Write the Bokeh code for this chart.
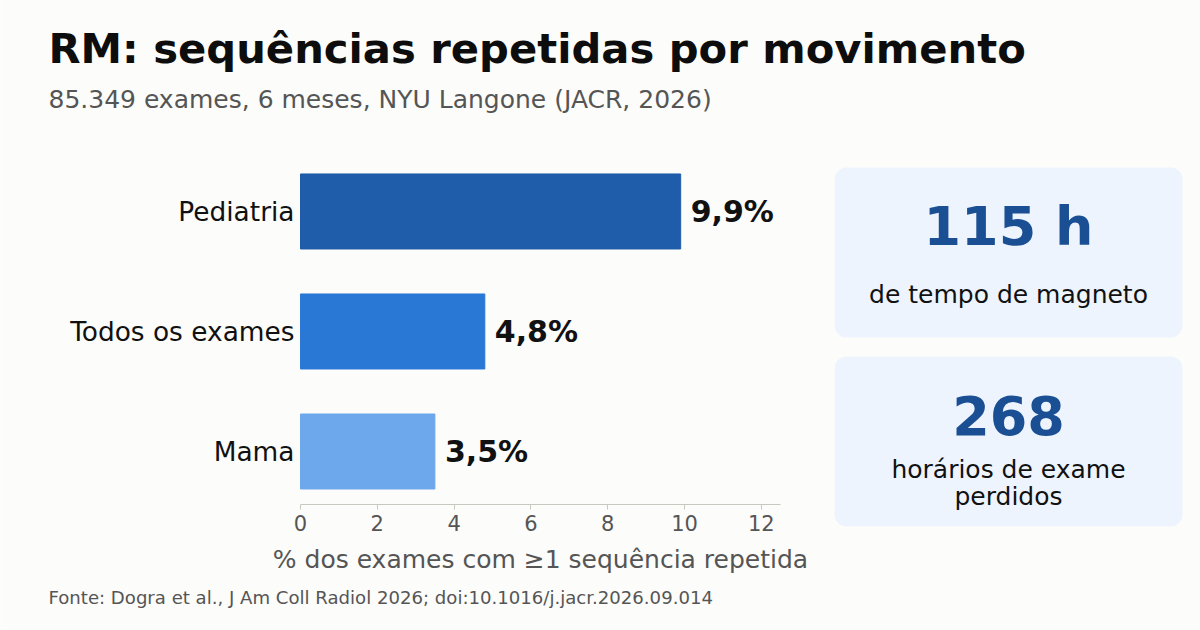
from bokeh.core.properties import value
from bokeh.embed import file_html
from bokeh.layouts import column, row
from bokeh.models import BoxAnnotation, ColumnDataSource, FixedTicker, Range1d
from bokeh.plotting import figure
from bokeh.resources import INLINE

# data
categories = ["Mama", "Todos os exames", "Pediatria"]
pct_repeat = [3.5, 4.8, 9.9]
x_ticks = [0, 2, 4, 6, 8, 10, 12]
card_numbers = ["115 h", "268"]
card_captions = [["de tempo de magneto"], ["horários de exame", "perdidos"]]

title_txt = "RM: sequências repetidas por movimento"
subtitle_txt = "85.349 exames, 6 meses, NYU Langone (JACR, 2026)"
xlabel_txt = "% dos exames com \u22651 sequência repetida"
source_txt = "Fonte: Dogra et al., J Am Coll Radiol 2026; doi:10.1016/j.jacr.2026.09.014"

bar_colors = ["#6ea8ec", "#2a78d6", "#1f5ca9"]
BG = "#fcfcfa"
FONT = "DejaVu Sans"


def blank(w, h, x0, y0):
    # plain figure whose frame fills the canvas, y pointing down (pixel-like)
    f = figure(width=w, height=h, output_backend="svg", toolbar_location=None, tools="",
               x_range=Range1d(x0, x0 + w), y_range=Range1d(y0 + h, y0),
               x_axis_type=None, y_axis_type=None, min_border=0, title=None,
               background_fill_color=BG, border_fill_color=BG, outline_line_color=None)
    f.grid.grid_line_color = None
    return f


# header
head = blank(1200, 150, 0, 0)
head.text(x=[48], y=[47.8], text=[title_txt], text_font=value(FONT), text_font_style="bold",
          text_font_size="41.7px", text_color="#0d0d0d", text_baseline="middle")
head.text(x=[48], y=[98.7], text=[subtitle_txt], text_font=value(FONT),
          text_font_size="25px", text_color="#555555", text_baseline="middle")

# bar chart: frame fills the middle band, both axes pinned inside it
ys = list(range(len(categories)))
labels = [f"{v:.1f}".replace(".", ",") + "%" for v in pct_repeat]
source = ColumnDataSource(dict(y=ys, pct=pct_repeat, color=bar_colors, label=labels))

p = figure(width=820, height=430, output_backend="svg", toolbar_location=None,
           tools="", x_range=Range1d(-7.8125, 13.5417), y_range=Range1d(-1.075, 2.508),
           min_border=0, title=None, background_fill_color=BG,
           border_fill_color=BG, outline_line_color=None)
p.grid.grid_line_color = None

p.hbar(y="y", right="pct", left=0, height=0.625, color="color", source=source)
p.text(x="pct", y="y", text="label", source=source, x_offset=10,
       text_baseline="middle", text_font=value(FONT), text_font_style="bold",
       text_font_size="30px", text_color="#111111")

p.yaxis.fixed_location = 0
p.yaxis.ticker = FixedTicker(ticks=ys)
p.yaxis.major_label_overrides = {i: c for i, c in enumerate(categories)}
p.yaxis.axis_line_color = None
p.yaxis.major_tick_line_color = None
p.yaxis.minor_tick_line_color = None
p.yaxis.major_tick_out = 0
p.yaxis.major_label_standoff = 6
p.yaxis.major_label_text_font = FONT
p.yaxis.major_label_text_font_size = "26.4px"
p.yaxis.major_label_text_color = "#111111"

p.xaxis.fixed_location = -0.4417
p.xaxis.bounds = (0, 12.5)
p.xaxis.ticker = FixedTicker(ticks=x_ticks)
p.xaxis.axis_line_color = "#c8c8c0"
p.xaxis.major_tick_line_color = "#c8c8c0"
p.xaxis.minor_tick_line_color = None
p.xaxis.major_tick_out = 5
p.xaxis.major_tick_in = 0
p.xaxis.major_label_standoff = 6
p.xaxis.major_label_text_font = FONT
p.xaxis.major_label_text_font_size = "21px"
p.xaxis.major_label_text_color = "#555555"
p.xaxis.axis_label = xlabel_txt
p.xaxis.axis_label_text_font = FONT
p.xaxis.axis_label_text_font_size = "25px"
p.xaxis.axis_label_text_font_style = "normal"
p.xaxis.axis_label_text_color = "#555555"
p.xaxis.axis_label_standoff = 10

# stat cards
cards = blank(380, 430, 820, 150)
card_tops = [167, 356]
card_h = 170
num_mid = [225.5, 415]
cap_mid = [[294.2], [469.2, 495.5]]
for i, num in enumerate(card_numbers):
    cards.add_layout(BoxAnnotation(left=834, right=1182, top=card_tops[i],
                                   bottom=card_tops[i] + card_h,
                                   fill_color="#edf4fd", fill_alpha=1, line_color=None,
                                   border_radius=12, level="underlay"))
    cards.text(x=[1008], y=[num_mid[i]], text=[num], text_font=value(FONT),
               text_font_style="bold", text_font_size="54px", text_color="#1a4f93",
               text_align="center", text_baseline="middle")
    cards.text(x=[1008] * len(card_captions[i]), y=cap_mid[i], text=card_captions[i],
               text_font=value(FONT), text_font_size="25px", text_color="#111111",
               text_align="center", text_baseline="middle")

# footer
foot = blank(1200, 50, 0, 580)
foot.text(x=[48], y=[597], text=[source_txt], text_font=value(FONT),
          text_font_size="18.1px", text_color="#555555", text_baseline="middle")

layout = column(head, row(p, cards, spacing=0), foot, spacing=0)
open("out.html", "w").write(file_html(layout, INLINE))
